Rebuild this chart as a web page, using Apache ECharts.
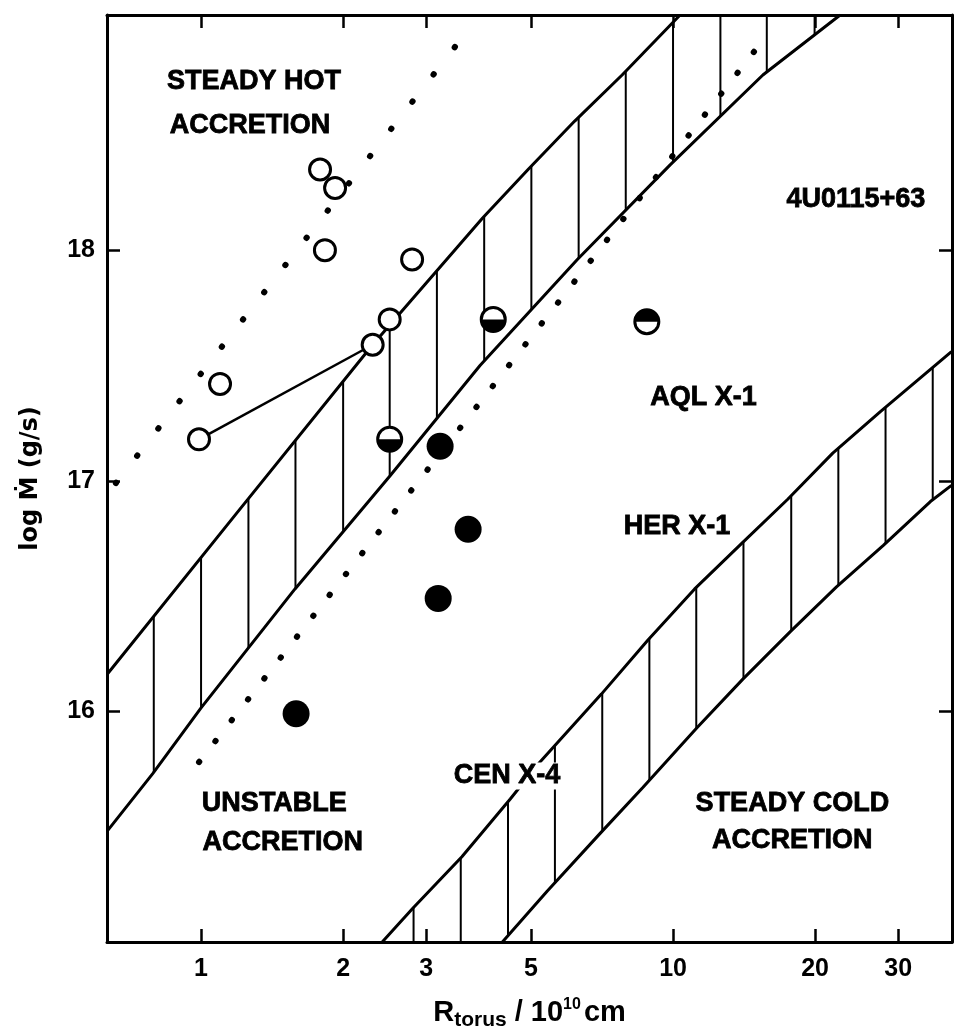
<!DOCTYPE html>
<html><head><meta charset="utf-8">
<script src="https://cdn.jsdelivr.net/npm/echarts@6/dist/echarts.min.js"></script>
<style>html,body{margin:0;padding:0;background:#fff}#c{width:956px;height:1036px}</style>
</head><body><div id="c"></div>
<script>
// ---------- data (R in units of 1e10 cm, log Mdot in g/s) ----------
const xTickValues = [1, 2, 3, 5, 10, 20, 30];
const yTickValues = [16, 17, 18];
const xRange = [0.632, 39];
const yRange = [15, 19.02];

const openR    = [0.99, 1.097, 1.83, 1.787, 1.923, 2.31, 2.51, 2.80];
const openLogM = [17.18, 17.42, 18.00, 18.35, 18.27, 17.59, 17.70, 17.96];

const filledR    = [1.59, 3.21, 3.68, 3.18];
const filledLogM = [15.99, 17.15, 16.79, 16.49];

const halfR    = [2.51, 4.16, 8.8];
const halfLogM = [17.18, 17.70, 17.69];
const halfTopFilled = [false, false, true];

const connectorR    = [0.99, 2.31];
const connectorLogM = [17.18, 17.59];

// upper hatched band (A = upper edge, B = lower edge)
const bandA_R    = [0.632, 1.19, 2.31, 3.95, 4.93, 6.19, 7.80, 10.35];
const bandA_LogM = [16.16, 16.86, 17.59, 18.14, 18.35, 18.56, 18.76, 19.02];
const bandB_R    = [0.632, 0.79, 1.0, 1.58, 2.51, 3.90, 6.27, 9.86, 15.5, 22.6];
const bandB_LogM = [15.48, 15.73, 16.015, 16.53, 17.02, 17.50, 17.96, 18.37, 18.76, 19.02];
// lower hatched band (C = upper edge, D = lower edge)
const bandC_R    = [2.42, 2.81, 3.57, 4.52, 5.22, 7.05, 8.85, 11.1, 14.0, 17.5, 21.8, 27.5, 38.9];
const bandC_LogM = [15.0, 15.146, 15.37, 15.62, 15.78, 16.075, 16.31, 16.53, 16.73, 16.92, 17.12, 17.30, 17.56];
const bandD_R    = [4.35, 5.41, 7.0, 8.63, 11.25, 14.06, 17.7, 22.2, 27.9, 35.1, 38.9];
const bandD_LogM = [15.0, 15.22, 15.47, 15.67, 15.93, 16.14, 16.345, 16.54, 16.72, 16.91, 16.98];

// vertical hatch positions
const upperHatchR = [0.794, 1.0, 1.26, 1.585, 2.0, 2.51, 3.16, 3.98, 5.01, 6.31, 7.94, 10.0, 12.6, 15.8, 19.95];
const lowerHatchR = [2.82, 3.55, 4.47, 5.62, 7.08, 8.91, 11.2, 14.1, 17.8, 22.4, 28.2, 35.5];

// dotted lines
const dotUpperR = [0.66, 3.6];
const dotUpperLogM = [16.99, 18.93];
const dotLowerR = [0.99, 15.1];
const dotLowerLogM = [15.78, 18.88];

// annotations
const noteText = ['STEADY HOT', 'ACCRETION', '4U0115+63', 'AQL X-1', 'HER X-1', 'CEN X-4', 'UNSTABLE', 'ACCRETION', 'STEADY COLD', 'ACCRETION'];
const noteR    = [1.295, 1.27, 24.4, 11.6, 10.2, 4.45, 1.43, 1.49, 17.9, 17.9];
const noteLogM = [18.73, 18.54, 18.22, 17.36, 16.80, 15.72, 15.60, 15.43, 15.60, 15.44];

// ---------- helpers ----------
const L = v => Math.log10(v);
const pts = (rs, ms) => rs.map((r, i) => [L(r), ms[i]]);
function interp(rs, ms, lx, fallbackLow, fallbackHigh) {
  const xs = rs.map(L);
  if (lx <= xs[0]) return fallbackLow;
  if (lx >= xs[xs.length - 1]) return fallbackHigh;
  for (let i = 1; i < xs.length; i++) {
    if (lx <= xs[i]) {
      const t = (lx - xs[i - 1]) / (xs[i] - xs[i - 1]);
      return ms[i - 1] + t * (ms[i] - ms[i - 1]);
    }
  }
}
const hatchData = [];
upperHatchR.forEach(r => {
  const lx = L(r);
  hatchData.push([lx, interp(bandA_R, bandA_LogM, lx, yRange[0], yRange[1]), interp(bandB_R, bandB_LogM, lx, yRange[0], yRange[1])]);
});
lowerHatchR.forEach(r => {
  const lx = L(r);
  hatchData.push([lx, interp(bandC_R, bandC_LogM, lx, yRange[0], yRange[1]), interp(bandD_R, bandD_LogM, lx, yRange[0], yRange[1])]);
});

const FONT = '"Liberation Sans", Arial, sans-serif';
const tickStyle = { show: true, inside: true, length: 13, lineStyle: { color: '#000', width: 2.5 } };
const axisLineStyle = { show: true, onZero: false, lineStyle: { color: '#000', width: 3 } };

const bandLine = (rs, ms) => ({
  type: 'line', data: pts(rs, ms), showSymbol: false, symbol: 'none', smooth: false,
  lineStyle: { color: '#000', width: 3 }, z: 3, silent: true
});
const dotLine = (rs, ms, gap) => ({
  type: 'line', data: pts(rs, ms), showSymbol: false, symbol: 'none',
  lineStyle: { color: '#000', width: 6, type: [0.5, gap], cap: 'round' }, z: 3, silent: true
});

const chart = echarts.init(document.getElementById('c'), null, { renderer: 'canvas' });
chart.setOption({
  animation: false,
  backgroundColor: '#fff',
  grid: { left: 107, right: 4, top: 15, bottom: 79 },
  xAxis: [{
    type: 'value', min: L(xRange[0]), max: L(xRange[1]), position: 'bottom',
    axisLine: axisLineStyle,
    axisTick: Object.assign({ customValues: xTickValues.map(L) }, tickStyle),
    axisLabel: { customValues: xTickValues.map(L), margin: 15, color: '#000', fontFamily: FONT, fontWeight: 'bold', fontSize: 25,
      formatter: v => String(Math.round(Math.pow(10, v))) },
    splitLine: { show: false },
    name: '{r|R}{sub|torus}{n| / 10}{sup|10}{n|cm}', nameLocation: 'middle', nameGap: 52,
    nameTextStyle: { color: '#000', fontFamily: FONT, fontWeight: 'bold',
      rich: {
        r: { fontSize: 29, fontWeight: 'bold', fontFamily: FONT, color: '#000' },
        sub: { fontSize: 21, fontWeight: 'bold', fontFamily: FONT, color: '#000', padding: [16, 0, 0, 0] },
        n: { fontSize: 29, fontWeight: 'bold', fontFamily: FONT, color: '#000' },
        sup: { fontSize: 16, fontWeight: 'bold', fontFamily: FONT, color: '#000', padding: [0, 3, 16, 0] }
      } }
  }, {
    type: 'value', min: L(xRange[0]), max: L(xRange[1]), position: 'top',
    axisLine: axisLineStyle,
    axisTick: Object.assign({ customValues: xTickValues.map(L) }, tickStyle),
    axisLabel: { show: false }, splitLine: { show: false }
  }],
  yAxis: [{
    type: 'value', min: yRange[0], max: yRange[1], position: 'left',
    axisLine: axisLineStyle,
    axisTick: Object.assign({ customValues: yTickValues }, tickStyle),
    axisLabel: { customValues: yTickValues, margin: 12, color: '#000', fontFamily: FONT, fontWeight: 'bold', fontSize: 25 },
    splitLine: { show: false },
    name: 'log Ṁ (g/s)', nameLocation: 'middle', nameGap: 64, nameRotate: 90,
    nameTextStyle: { color: '#000', fontFamily: '"DejaVu Sans", "Liberation Sans", sans-serif', fontWeight: 'bold', fontSize: 24 }
  }, {
    type: 'value', min: yRange[0], max: yRange[1], position: 'right',
    axisLine: axisLineStyle,
    axisTick: Object.assign({ customValues: yTickValues }, tickStyle),
    axisLabel: { show: false }, splitLine: { show: false }
  }],
  series: [
    bandLine(bandA_R, bandA_LogM),
    bandLine(bandB_R, bandB_LogM),
    bandLine(bandC_R, bandC_LogM),
    bandLine(bandD_R, bandD_LogM),
    {
      type: 'custom', data: hatchData, clip: true, z: 3, silent: true,
      encode: { x: 0, y: [1, 2] },
      renderItem: (params, api) => {
        const a = api.coord([api.value(0), api.value(1)]);
        const b = api.coord([api.value(0), api.value(2)]);
        return { type: 'line', shape: { x1: a[0], y1: a[1], x2: b[0], y2: b[1] }, style: { stroke: '#000', lineWidth: 2 } };
      }
    },
    dotLine(dotUpperR, dotUpperLogM, 34),
    dotLine(dotLowerR, dotLowerLogM, 26),
    {
      type: 'line', data: pts(connectorR, connectorLogM), showSymbol: false, symbol: 'none',
      lineStyle: { color: '#000', width: 2.5 }, z: 4, silent: true
    },
    {
      type: 'scatter', data: pts(openR, openLogM), symbol: 'circle', symbolSize: 21, z: 10,
      itemStyle: { color: '#fff', borderColor: '#000', borderWidth: 3, opacity: 1 }
    },
    {
      type: 'scatter', data: pts(filledR, filledLogM), symbol: 'circle', symbolSize: 27, z: 10,
      itemStyle: { color: '#000', opacity: 1 }
    },
    {
      type: 'custom', data: halfR.map((r, i) => [L(r), halfLogM[i], halfTopFilled[i] ? 1 : 0]), z: 10,
      renderItem: (params, api) => {
        const p = api.coord([api.value(0), api.value(1)]);
        const r = 12;
        const top = api.value(2) === 1;
        return { type: 'group', children: [
          { type: 'circle', shape: { cx: p[0], cy: p[1], r: r }, style: { fill: '#fff', stroke: '#000', lineWidth: 3 } },
          { type: 'sector', shape: { cx: p[0], cy: p[1], r0: 0, r: r,
              startAngle: top ? Math.PI : 0, endAngle: top ? 2 * Math.PI : Math.PI, clockwise: true }, style: { fill: '#000' } }
        ] };
      }
    },
    {
      type: 'custom', z: 20, silent: true, clip: false,
      data: noteText.map((t, i) => [L(noteR[i]), noteLogM[i], i]),
      renderItem: (params, api) => {
        const p = api.coord([api.value(0), api.value(1)]);
        const t = noteText[api.value(2)];
        return {
          type: 'text', x: p[0], y: p[1],
          style: {
            text: t, fill: '#000', stroke: '#000', lineWidth: 0.8,
            font: 'bold 27px ' + FONT, align: 'center', verticalAlign: 'middle',
            backgroundColor: t === 'CEN X-4' ? '#fff' : null
          }
        };
      }
    }
  ]
});
</script>
</body></html>
